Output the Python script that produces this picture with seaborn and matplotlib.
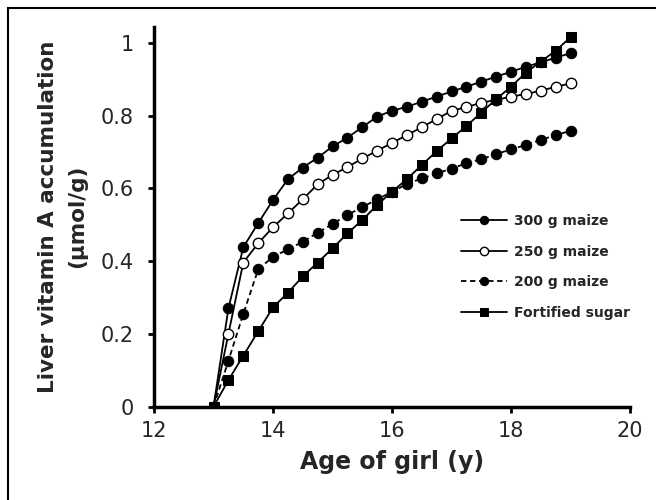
import numpy as np
import pandas as pd
import matplotlib
matplotlib.use("Agg")
import matplotlib.pyplot as plt
import seaborn as sns
from matplotlib.patches import Rectangle

# age of girl (y), 13 to 19 by quarter years
age = [13.0, 13.25, 13.5, 13.75, 14.0, 14.25, 14.5, 14.75, 15.0, 15.25, 15.5, 15.75,
       16.0, 16.25, 16.5, 16.75, 17.0, 17.25, 17.5, 17.75, 18.0, 18.25, 18.5, 18.75, 19.0]

maize_300 = [0, 0.27, 0.438, 0.504, 0.568, 0.625, 0.657, 0.684, 0.715, 0.739, 0.768, 0.797,
             0.813, 0.824, 0.838, 0.852, 0.866, 0.879, 0.893, 0.907, 0.92, 0.934, 0.946, 0.959, 0.971]
maize_250 = [0, 0.20, 0.396, 0.449, 0.493, 0.531, 0.570, 0.611, 0.637, 0.658, 0.682, 0.703,
             0.725, 0.746, 0.768, 0.79, 0.813, 0.823, 0.835, 0.843, 0.852, 0.859, 0.868, 0.879, 0.888]
maize_200 = [0, 0.126, 0.255, 0.377, 0.412, 0.432, 0.453, 0.478, 0.502, 0.527, 0.548, 0.57,
             0.59, 0.612, 0.627, 0.641, 0.654, 0.669, 0.68, 0.694, 0.707, 0.719, 0.733, 0.746, 0.758]
sugar = [0, 0.073, 0.14, 0.207, 0.273, 0.313, 0.358, 0.396, 0.435, 0.476, 0.513, 0.554,
         0.591, 0.625, 0.664, 0.702, 0.737, 0.771, 0.808, 0.845, 0.879, 0.918, 0.948, 0.978, 1.015]

labels = ['300 g maize', '250 g maize', '200 g maize', 'Fortified sugar']

sns.set_style('ticks')
plt.rcParams['font.family'] = ['DejaVu Sans']

fig = plt.figure(figsize=(6.56, 5.0), dpi=100)
ax = fig.add_axes([0.2348, 0.1866, 0.7256, 0.76])

df = pd.DataFrame({'age': age, '300': maize_300, '250': maize_250,
                   '200': maize_200, 'sugar': sugar})

sns.lineplot(data=df, x='age', y='300', ax=ax, color='black', lw=1.3,
             marker='o', markersize=7.5, markerfacecolor='black',
             markeredgecolor='black', label=labels[0])
sns.lineplot(data=df, x='age', y='250', ax=ax, color='black', lw=1.3,
             marker='o', markersize=7.5, markerfacecolor='white',
             markeredgecolor='black', markeredgewidth=1.0, label=labels[1])
sns.lineplot(data=df, x='age', y='200', ax=ax, color='black', lw=1.3,
             linestyle=(0, (3, 2)), marker='o', markersize=7.5,
             markerfacecolor='black', markeredgecolor='black', label=labels[2])
sns.lineplot(data=df, x='age', y='sugar', ax=ax, color='black', lw=1.3,
             marker='s', markersize=7.5, markerfacecolor='black',
             markeredgecolor='black', label=labels[3])

ax.set_xlim(12, 20)
ax.set_ylim(0, 1.044)
ax.set_xticks([12, 14, 16, 18, 20])
ax.set_yticks([0, 0.2, 0.4, 0.6, 0.8, 1.0])
ax.set_yticklabels(['0', '0.2', '0.4', '0.6', '0.8', '1'])
ax.tick_params(direction='out', length=4.5, width=2, labelsize=15, color='black')
ax.tick_params(axis='x', pad=6)
ax.tick_params(axis='y', pad=10)

for s in ['top', 'right']:
    ax.spines[s].set_visible(False)
for s in ['left', 'bottom']:
    ax.spines[s].set_linewidth(2.5)
    ax.spines[s].set_color('black')

ax.set_xlabel('Age of girl (y)', fontsize=17, fontweight='bold')
ax.set_ylabel('Liver vitamin A accumulation\n(\u00b5mol/g)', fontsize=15.5,
              fontweight='bold', linespacing=1.6)
ax.xaxis.set_label_coords(0.5, -0.115)
ax.yaxis.set_label_coords(-0.14, 0.5)

leg = ax.legend(loc='upper left', bbox_to_anchor=(0.703, 0.572),
                bbox_transform=fig.transFigure, frameon=False,
                prop={'size': 10, 'weight': 'bold'}, markerscale=0.8,
                handlelength=3.3, handletextpad=0.5, labelspacing=1.2,
                borderpad=0, borderaxespad=0)

# outer frame (left and top edges visible)
fig.patches.append(Rectangle((8 / 656, -0.1), 1.2, 1.1 - 8 / 500,
                             transform=fig.transFigure, fill=False,
                             edgecolor='black', linewidth=1.5))

fig.savefig('out.png', dpi=100)
